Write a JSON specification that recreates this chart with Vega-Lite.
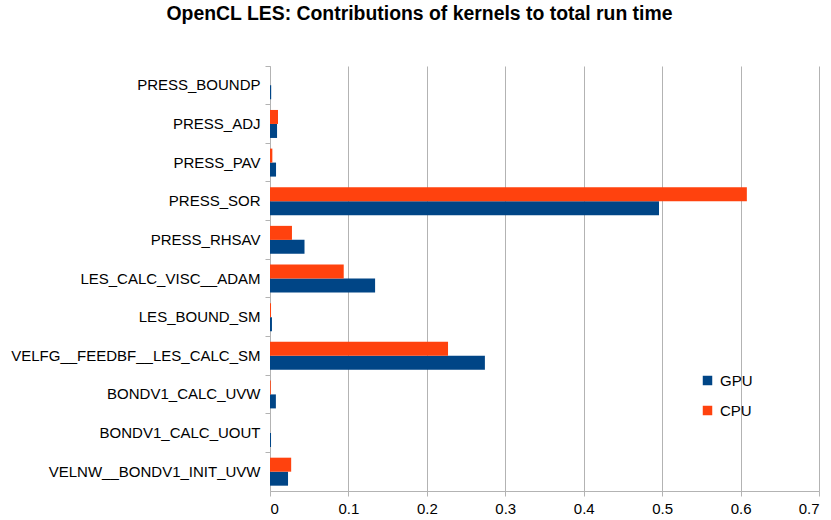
{
  "$schema": "https://vega.github.io/schema/vega-lite/v6.json",
  "autosize": {"type": "none"},
  "padding": {"left": 270, "top": 66, "right": 12, "bottom": 29},
  "width": 549,
  "height": 425,
  "background": "white",
  "title": {
    "text": "OpenCL LES: Contributions of kernels to total run time",
    "font": "Liberation Sans",
    "fontSize": 19.4,
    "fontWeight": "bold",
    "color": "#000000",
    "anchor": "middle",
    "dx": -125,
    "offset": 41
  },
  "config": {
    "view": {"stroke": null},
    "font": "Liberation Sans"
  },
  "data": {
    "values": [
      {"kernel": "PRESS_BOUNDP", "device": "GPU", "value": 0.0015},
      {"kernel": "PRESS_BOUNDP", "device": "CPU", "value": 0.0},
      {"kernel": "PRESS_ADJ", "device": "GPU", "value": 0.009},
      {"kernel": "PRESS_ADJ", "device": "CPU", "value": 0.0102},
      {"kernel": "PRESS_PAV", "device": "GPU", "value": 0.0077},
      {"kernel": "PRESS_PAV", "device": "CPU", "value": 0.003},
      {"kernel": "PRESS_SOR", "device": "GPU", "value": 0.496},
      {"kernel": "PRESS_SOR", "device": "CPU", "value": 0.608},
      {"kernel": "PRESS_RHSAV", "device": "GPU", "value": 0.044},
      {"kernel": "PRESS_RHSAV", "device": "CPU", "value": 0.028},
      {"kernel": "LES_CALC_VISC__ADAM", "device": "GPU", "value": 0.134},
      {"kernel": "LES_CALC_VISC__ADAM", "device": "CPU", "value": 0.094},
      {"kernel": "LES_BOUND_SM", "device": "GPU", "value": 0.0025},
      {"kernel": "LES_BOUND_SM", "device": "CPU", "value": 0.0013},
      {"kernel": "VELFG__FEEDBF__LES_CALC_SM", "device": "GPU", "value": 0.274},
      {"kernel": "VELFG__FEEDBF__LES_CALC_SM", "device": "CPU", "value": 0.227},
      {"kernel": "BONDV1_CALC_UVW", "device": "GPU", "value": 0.0075},
      {"kernel": "BONDV1_CALC_UVW", "device": "CPU", "value": 0.001},
      {"kernel": "BONDV1_CALC_UOUT", "device": "GPU", "value": 0.0013},
      {"kernel": "BONDV1_CALC_UOUT", "device": "CPU", "value": 0.0},
      {"kernel": "VELNW__BONDV1_INIT_UVW", "device": "GPU", "value": 0.023},
      {"kernel": "VELNW__BONDV1_INIT_UVW", "device": "CPU", "value": 0.027}
    ]
  },
  "mark": {"type": "bar"},
  "encoding": {
    "y": {
      "field": "kernel",
      "type": "nominal",
      "sort": null,
      "scale": {"paddingInner": 0, "paddingOuter": 0},
      "axis": {
        "title": null,
        "bandPosition": 0,
        "domainColor": "#b3b3b3",
        "tickColor": "#b3b3b3",
        "tickSize": 5,
        "labelFontSize": 15,
        "labelColor": "#000000",
        "labelPadding": 5,
        "labelLimit": 0,
        "labelFont": "Liberation Sans"
      }
    },
    "yOffset": {
      "field": "device",
      "sort": ["CPU", "GPU"],
      "scale": {"paddingOuter": 0.38, "paddingInner": 0}
    },
    "x": {
      "field": "value",
      "type": "quantitative",
      "scale": {"domain": [0, 0.7], "nice": false},
      "axis": {
        "title": null,
        "values": [0, 0.1, 0.2, 0.3, 0.4, 0.5, 0.6, 0.7],
        "format": "~g",
        "grid": true,
        "gridColor": "#b3b3b3",
        "domainColor": "#b3b3b3",
        "tickColor": "#b3b3b3",
        "tickSize": 5,
        "labelFontSize": 15,
        "labelColor": "#000000",
        "labelPadding": 5,
        "labelFont": "Liberation Sans"
      }
    },
    "color": {
      "field": "device",
      "type": "nominal",
      "scale": {"domain": ["GPU", "CPU"], "range": ["#004586", "#ff420e"]},
      "legend": {
        "title": null,
        "orient": "none",
        "legendX": 430,
        "legendY": 307,
        "symbolType": "square",
        "symbolSize": 90,
        "symbolStrokeWidth": 0,
        "labelFontSize": 15,
        "labelColor": "#000000",
        "labelFont": "Liberation Sans",
        "rowPadding": 14,
        "labelOffset": 5
      }
    }
  }
}
